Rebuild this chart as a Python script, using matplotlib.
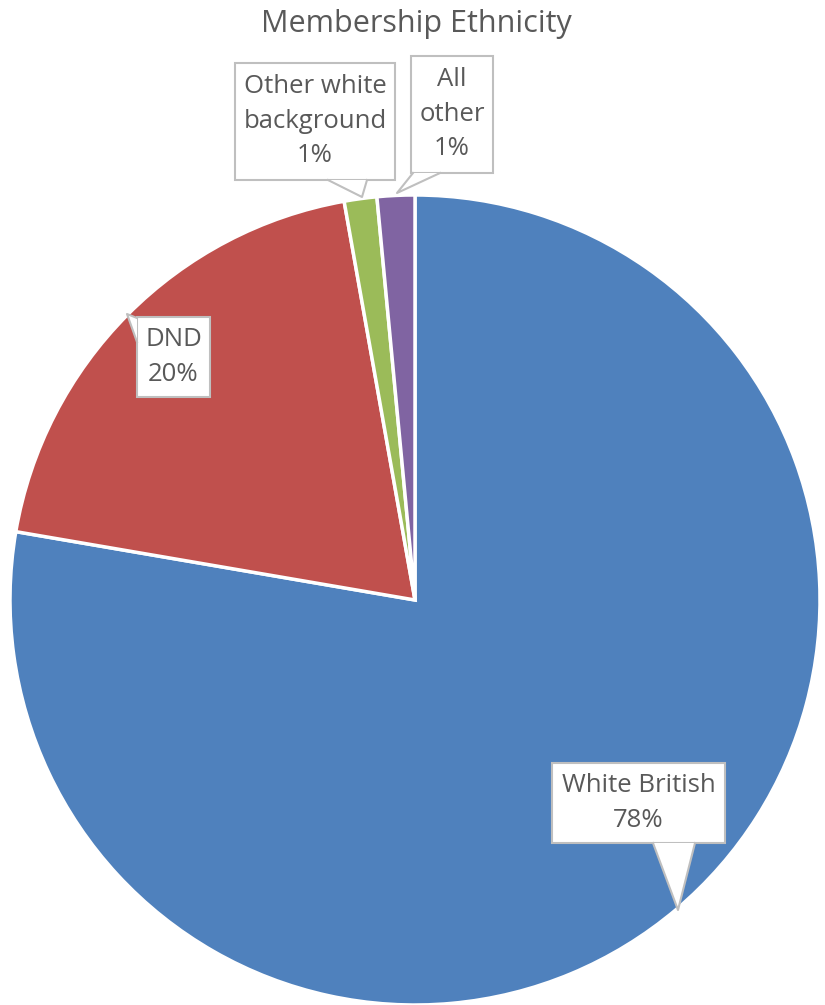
import matplotlib.pyplot as plt
from matplotlib.patches import Polygon

labels = ["White British", "DND", "Other white\nbackground", "All\nother"]
values = [77.7, 19.5, 1.3, 1.5]
pct_labels = ["78%", "20%", "1%", "1%"]
colors = ["#4F81BD", "#C0504D", "#9BBB59", "#8064A2"]

W, H = 825, 1005
CX, CY, R = 415, 600, 405

fig = plt.figure(figsize=(W / 100, H / 100), dpi=100)
ax = fig.add_axes([(CX - R) / W, (H - CY - R) / H, 2 * R / W, 2 * R / H])
ax.pie(values, colors=colors, startangle=90, counterclock=False, radius=1,
       wedgeprops=dict(edgecolor="white", linewidth=2.5))
ax.set_xlim(-1, 1)
ax.set_ylim(-1, 1)
ax.set_aspect("equal")
ax.axis("off")

fig.text(416 / W, 1 - 24 / H, "Membership Ethnicity", ha="center", va="center",
         fontsize=22, color="#595959", family="Open Sans")


def px(x, y):
    return ((x - CX) / R, (CY - y) / R)


# callout boxes: (left, top, right, bottom) in pixels, pointer polygon in pixels
callouts = [
    ((552, 763, 725, 843), [(653, 843), (678, 910), (695, 843)]),
    ((137, 317, 210, 397), [(137, 318), (127, 314), (137, 342)]),
    ((235, 63, 395, 180), [(328, 180), (362, 197), (367, 180)]),
    ((411, 56, 493, 173), [(413, 173), (397, 193), (440, 173)]),
]

for lab, pct, (box_px, ptr) in zip(labels, pct_labels, callouts):
    l, t, r, b = box_px
    box = [px(l, t), px(r, t), px(r, b), px(l, b)]
    ax.add_patch(Polygon(box, closed=True, facecolor="white", edgecolor="#BFBFBF",
                         linewidth=1.5, clip_on=False, zorder=5))
    # pointer: white fill covering the box edge, then its two sides
    ax.add_patch(Polygon([px(*p) for p in ptr], closed=True, facecolor="white",
                         edgecolor="none", clip_on=False, zorder=7))
    ax.plot(*zip(*[px(*p) for p in ptr]), color="#BFBFBF", lw=1.5, zorder=8,
            clip_on=False)
    tx, ty = px((l + r) / 2, (t + b) / 2)
    ax.text(tx, ty, lab + "\n" + pct, ha="center", va="center", fontsize=18.5,
            color="#595959", family="Open Sans", zorder=9, linespacing=1.5)

plt.savefig("out.png", dpi=100)
